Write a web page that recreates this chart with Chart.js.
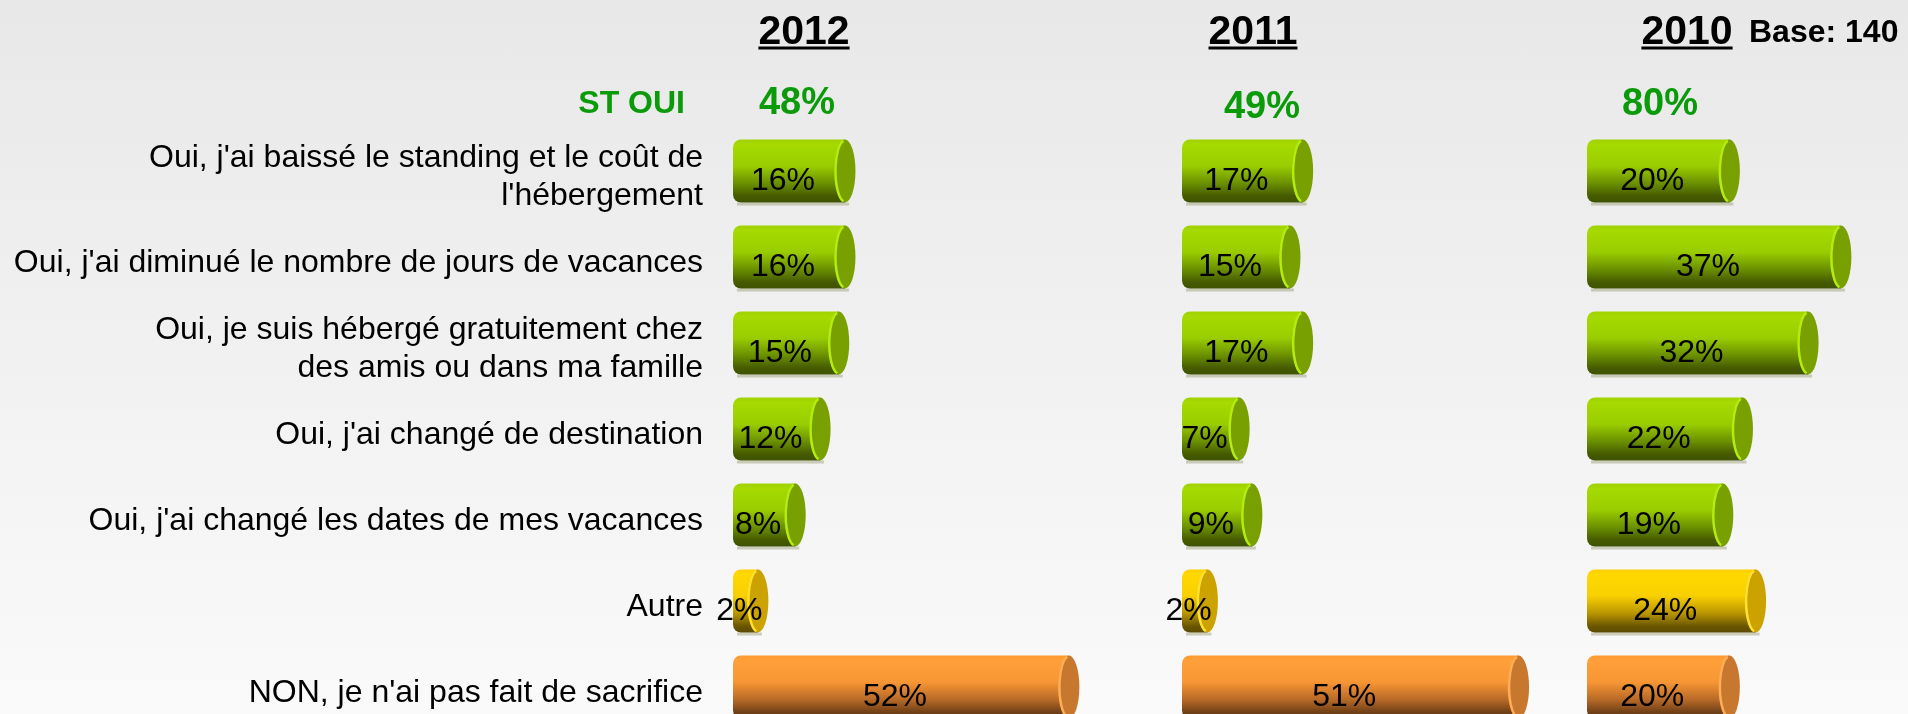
<!DOCTYPE html>
<html>
<head>
<meta charset="utf-8">
<script src="https://cdn.jsdelivr.net/npm/chart.js@4.4.0/dist/chart.umd.min.js"></script>
<style>
  html, body { margin: 0; padding: 0; }
  body {
    width: 1908px; height: 714px; overflow: hidden; position: relative;
    background: linear-gradient(#e8e8e8, #fafafa);
    font-family: 'Liberation Sans', Arial, sans-serif;
  }
  .panel { position: absolute; top: 0; height: 740px; }
  .hd {
    position: absolute; font-weight: bold; line-height: 1; white-space: nowrap;
    transform: translate(-50%, -50%);
  }
  .year { font-size: 41px; color: #000; text-decoration: underline; text-decoration-thickness: 3px; text-underline-offset: 3px; }
  .pct { font-size: 38px; color: #0a9a0a; }
</style>
</head>
<body>
<div class="panel" style="left:0;width:1182px"><canvas id="c2012" width="1182" height="740"></canvas></div>
<div class="panel" style="left:1142px;width:445px"><canvas id="c2011" width="445" height="740"></canvas></div>
<div class="panel" style="left:1547px;width:361px"><canvas id="c2010" width="361" height="740"></canvas></div>

<div id="headers"></div>

<script>
// Data
const categories = [
  ["Oui, j'ai baissé le standing et le coût de", "l'hébergement"],
  "Oui, j'ai diminué le nombre de jours de vacances",
  ["Oui, je suis hébergé gratuitement chez", "des amis ou dans ma famille"],
  "Oui, j'ai changé de destination",
  "Oui, j'ai changé les dates de mes vacances",
  "Autre",
  "NON, je n'ai pas fait de sacrifice"
];
const years = ['2012', '2011', '2010'];
const values2012 = [16, 16, 15, 12, 8, 2, 52];
const values2011 = [17, 15, 17, 7, 9, 2, 51];
const values2010 = [20, 37, 32, 22, 19, 24, 20];
const stOui = [48, 49, 80];
const baseCount = 140;

// Styles
const rowColor = ['green', 'green', 'green', 'green', 'green', 'yellow', 'orange'];
const palettes = {
  green:  { stops: ['#9fd200', '#a6da00', '#9acd00', '#6a8f00', '#455a00', '#3f5300'], cap: '#78a000', rim: '#b4ec10' },
  yellow: { stops: ['#ffcf00', '#ffd800', '#f8cf00', '#b89400', '#6a5600', '#5c4a00'], cap: '#cba200', rim: '#ffe030' },
  orange: { stops: ['#ff9a30', '#ffa03a', '#f79634', '#b86a28', '#704016', '#613510'], cap: '#c8782e', rim: '#ffae55' }
};
const gradPos = [0, 0.08, 0.42, 0.7, 0.9, 1];
const FONT = "'Liberation Sans', Arial, sans-serif";
const BAR_PCT = 0.733;
const CAP_RX = 10.5;

function barHeight(chart) {
  return chart.scales.y.height / categories.length * BAR_PCT;
}

function bodyFill(ctx) {
  const chart = ctx.chart;
  if (!chart.chartArea || ctx.dataIndex === undefined) return '#9acd00';
  const p = palettes[rowColor[ctx.dataIndex]];
  const y = chart.scales.y.getPixelForValue(ctx.dataIndex);
  const h = barHeight(chart);
  const g = chart.ctx.createLinearGradient(0, y - h / 2, 0, y + h / 2);
  p.stops.forEach((c, i) => g.addColorStop(gradPos[i], c));
  return g;
}

// shadow under each bar, cap ellipse and value label on top
const cylinderPlugin = {
  id: 'cylinder',
  beforeDatasetsDraw(chart) {
    const ctx = chart.ctx;
    const meta = chart.getDatasetMeta(0);
    ctx.save();
    ctx.fillStyle = 'rgba(150,152,110,0.45)';
    meta.data.forEach(bar => {
      const h = bar.height;
      ctx.fillRect(bar.base + 4, bar.y + h / 2, bar.x - bar.base, 3);
    });
    ctx.restore();
  },
  afterDatasetsDraw(chart) {
    const ctx = chart.ctx;
    const meta = chart.getDatasetMeta(0);
    const data = chart.data.datasets[0].data;
    ctx.save();
    meta.data.forEach((bar, i) => {
      const p = palettes[rowColor[i]];
      const h = bar.height;
      ctx.beginPath();
      ctx.ellipse(bar.x, bar.y, CAP_RX, h / 2, 0, 0, Math.PI * 2);
      ctx.fillStyle = p.cap;
      ctx.fill();
      ctx.beginPath();
      ctx.ellipse(bar.x, bar.y, CAP_RX - 1, h / 2 - 1, 0, Math.PI * 0.55, Math.PI * 1.45);
      ctx.strokeStyle = p.rim;
      ctx.lineWidth = 2.5;
      ctx.stroke();
    });
    ctx.fillStyle = '#000';
    ctx.font = '32px ' + FONT;
    ctx.textAlign = 'center';
    ctx.textBaseline = 'middle';
    meta.data.forEach((bar, i) => {
      ctx.fillText(data[i] + '%', (bar.x + bar.base) / 2 - 6, bar.y + 10);
    });
    ctx.restore();
  }
};

function makePanel(id, values, base, pxPerPct, leftPad) {
  const canvas = document.getElementById(id);
  const plotWidth = canvas.width - leftPad;
  const showLabels = leftPad > 100;
  return new Chart(canvas, {
    type: 'bar',
    data: {
      labels: categories,
      datasets: [{
        data: values,
        base: base,
        backgroundColor: bodyFill,
        borderSkipped: false,
        borderRadius: { topLeft: 8, bottomLeft: 8, topRight: 0, bottomRight: 0 },
        barPercentage: BAR_PCT,
        categoryPercentage: 1
      }]
    },
    options: {
      indexAxis: 'y',
      responsive: false,
      animation: false,
      layout: { padding: { top: 128, bottom: 10, left: showLabels ? 0 : leftPad, right: 0 } },
      plugins: { legend: { display: false }, tooltip: { enabled: false } },
      scales: {
        x: { display: false, min: base, max: base + plotWidth / pxPerPct },
        y: {
          display: showLabels,
          grid: { display: false, drawTicks: false },
          border: { display: false },
          ticks: {
            color: '#000',
            padding: 30,
            labelOffset: 6,
            font: { family: FONT, size: 32, lineHeight: 1.2 }
          },
          afterFit(scale) {
            if (showLabels) scale.width = leftPad;
            scale.paddingTop = 0;
            scale.paddingBottom = 0;
          }
        }
      }
    },
    plugins: [cylinderPlugin]
  });
}

makePanel('c2012', values2012, -2, 6.22, 733);
makePanel('c2011', values2011, -2, 6.35, 40);
makePanel('c2010', values2010, -1.7, 6.56, 40);

// header texts
const headers = document.getElementById('headers');
function addText(text, cls, x, y, extra) {
  const d = document.createElement('div');
  d.className = 'hd ' + cls;
  d.textContent = text;
  d.style.left = x + 'px';
  d.style.top = y + 'px';
  if (extra) Object.assign(d.style, extra);
  headers.appendChild(d);
}
const yearX = [804, 1253, 1687];
const pctX = [797, 1262, 1660];
const pctY = [101, 105, 102];
years.forEach((y, i) => addText(y, 'year', yearX[i], 30));
stOui.forEach((v, i) => addText(v + '%', 'pct', pctX[i], pctY[i]));
addText('ST OUI', 'pct', 685, 102, { fontSize: '32px', transform: 'translate(-100%, -50%)' });
addText('Base: ' + baseCount, '', 1749, 31, { fontSize: '32px', color: '#000', transform: 'translate(0, -50%)' });
</script>
</body>
</html>
